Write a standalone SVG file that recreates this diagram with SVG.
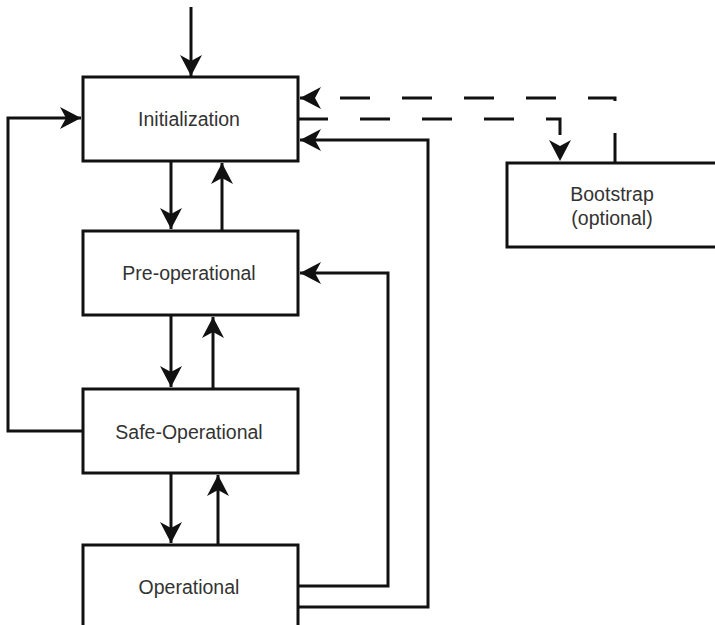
<svg xmlns="http://www.w3.org/2000/svg" width="715" height="625" viewBox="0 0 715 625">
  <style>
    .box { fill: #ffffff; stroke: #111111; stroke-width: 3; }
    .label { font-family: "Liberation Sans", Arial, sans-serif; font-size: 19.5px; fill: #333333; text-anchor: middle; }
    .wire { fill: none; stroke: #111111; stroke-width: 3; marker-end: url(#head); }
    .dash { stroke-dasharray: 30 32; }
  </style>
  <defs>
    <marker id="head" markerUnits="userSpaceOnUse" markerWidth="24" markerHeight="24" viewBox="-22 -12 24 24" refX="0" refY="0" orient="auto">
      <path d="M0,0 L-21,-11 L-15,0 L-21,11 Z" fill="#111111"/>
    </marker>
  </defs>
  <rect width="715" height="625" fill="#ffffff"/>

  <g id="connectors">
    <!-- entry into Initialization -->
    <path class="wire" d="M191,7 V76"/>
    <!-- Safe-Operational back to Initialization -->
    <path class="wire" d="M83,431 H8 V118 H81"/>
    <!-- Initialization <-> Pre-operational -->
    <path class="wire" d="M171,161 V229"/>
    <path class="wire" d="M222,231 V163"/>
    <!-- Pre-operational <-> Safe-Operational -->
    <path class="wire" d="M171,315 V387"/>
    <path class="wire" d="M213,389 V317"/>
    <!-- Safe-Operational <-> Operational -->
    <path class="wire" d="M171,473 V543"/>
    <path class="wire" d="M218,545 V475"/>
    <!-- Operational back to Pre-operational and Initialization -->
    <path class="wire" d="M298,586 H388 V273 H300"/>
    <path class="wire" d="M298,607 H428 V140 H300"/>
    <!-- Bootstrap transitions -->
    <path class="wire dash" d="M615,163 V98 H300"/>
    <path class="wire dash" d="M298,119 H560 V161"/>
  </g>

  <g id="init">
    <rect class="box" x="83" y="77" width="215" height="84"/>
    <text class="label" x="189" y="126">Initialization</text>
  </g>
  <g id="preop">
    <rect class="box" x="83" y="231" width="215" height="84"/>
    <text class="label" x="189" y="280">Pre-operational</text>
  </g>
  <g id="safeop">
    <rect class="box" x="83" y="389" width="215" height="84"/>
    <text class="label" x="189" y="439">Safe-Operational</text>
  </g>
  <g id="op">
    <rect class="box" x="83" y="545" width="215" height="84"/>
    <text class="label" x="189" y="594">Operational</text>
  </g>
  <g id="bootstrap">
    <rect class="box" x="507" y="163" width="220" height="84"/>
    <text class="label" x="612" y="201">Bootstrap</text>
    <text class="label" x="612" y="225">(optional)</text>
  </g>
</svg>
